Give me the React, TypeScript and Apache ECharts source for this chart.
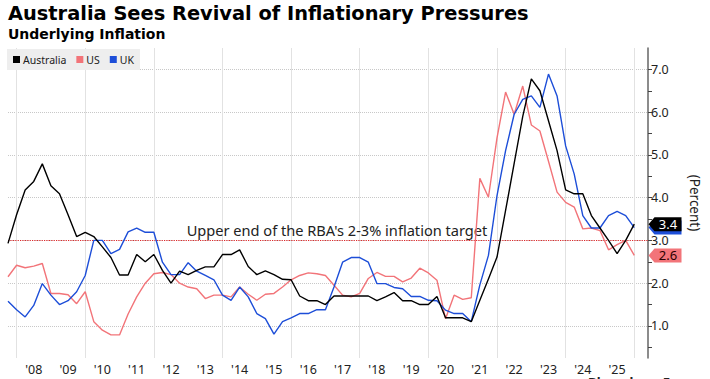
import React, { useEffect, useRef } from 'react';
import * as echarts from 'echarts';

// Quarterly observations, first one = Q3 2007 (quarter-end dates)
const startQuarter = 2007.75;
const quarterStep = 0.25;

const australia = [
  2.93, 3.6, 4.18, 4.38, 4.79, 4.28, 4.09, 3.6, 3.09, 3.19,
  3.09, 2.85, 2.6, 2.19, 2.19, 2.67, 2.5, 2.67, 2.3, 2.0,
  2.28, 2.2, 2.3, 2.38, 2.38, 2.67, 2.67, 2.78, 2.39, 2.2,
  2.29, 2.2, 2.09, 2.08, 1.7, 1.59, 1.59, 1.5, 1.7, 1.7,
  1.7, 1.7, 1.7, 1.59, 1.68, 1.78, 1.59, 1.59, 1.5, 1.5,
  1.69, 1.19, 1.19, 1.19, 1.1, 1.6, 2.1, 2.61, 3.7, 4.8,
  5.9, 6.78, 6.5, 5.8, 5.1, 4.18, 4.09, 4.09, 3.58, 3.29,
  3.0, 2.69, 3.0, 3.38,
];

const us = [
  2.15, 2.42, 2.36, 2.4, 2.46, 1.76, 1.76, 1.73, 1.52, 1.8,
  1.1, 0.9, 0.79, 0.79, 1.28, 1.68, 2.0, 2.22, 2.25, 2.2,
  2.0, 1.91, 1.87, 1.64, 1.72, 1.72, 1.68, 1.91, 1.74, 1.6,
  1.74, 1.76, 1.91, 2.08, 2.18, 2.24, 2.22, 2.18, 1.95, 1.72,
  1.68, 1.76, 2.11, 2.25, 2.16, 2.16, 2.03, 2.12, 2.35, 2.24,
  2.07, 1.17, 1.72, 1.62, 1.66, 4.45, 4.01, 5.4, 6.47, 5.95,
  6.61, 5.7, 5.56, 4.85, 4.13, 3.89, 3.78, 3.27, 3.29, 3.23,
  2.78, 2.9, 3.0, 2.65,
];

const uk = [
  1.58, 1.38, 1.21, 1.48, 1.99, 1.72, 1.5, 1.59, 1.8, 2.18,
  3.0, 3.0, 2.69, 2.79, 3.2, 3.29, 3.19, 3.19, 2.49, 2.2,
  2.2, 2.48, 2.28, 2.18, 2.08, 1.72, 1.6, 1.91, 1.68, 1.29,
  1.17, 0.81, 1.1, 1.19, 1.29, 1.29, 1.38, 1.38, 1.91, 2.49,
  2.6, 2.6, 2.49, 1.99, 1.99, 1.9, 1.87, 1.69, 1.69, 1.6,
  1.59, 1.37, 1.29, 1.29, 1.1, 1.96, 2.65, 4.05, 5.1, 5.95,
  6.3, 6.38, 6.11, 6.89, 6.38, 5.21, 4.55, 3.58, 3.29, 3.29,
  3.58, 3.68, 3.58, 3.3,
];

const yearLabels = [2008, 2009, 2010, 2011, 2012, 2013, 2014, 2015, 2016, 2017, 2018, 2019, 2020, 2021, 2022, 2023, 2024, 2025];
const gridYears = [2008, 2010, 2012, 2014, 2016, 2018, 2020, 2022, 2024, 2026];
const yLabelValues = [1, 2, 3, 4, 5, 6, 7];
const yTickValues = [0.5, 1, 1.5, 2, 2.5, 3, 3.5, 4, 4.5, 5, 5.5, 6, 6.5, 7];
const targetUpper = 3.0;
const targetText = "Upper end of the RBA's 2-3% inflation target";
const titleText = 'Australia Sees Revival of Inflationary Pressures';
const subtitleText = 'Underlying Inflation';

const X_MIN = 2007.75;
const X_MAX = 2026.4;
const Y_MIN = 0.25;
const Y_MAX = 7.5;

const FONT = '"Noto Sans", sans-serif';
const HEAD_FONT = '"DejaVu Sans", sans-serif';
const C_AU = '#000000';
const C_US = '#f27479';
const C_UK = '#1d4ed8';

const toPairs = (vals: number[]) => vals.map((v, i) => [startQuarter + i * quarterStep, v]);

// fit a font size so that text spans a target width
function fitSize(text: string, family: string, weight: string, target: number, fallback: number) {
  try {
    const c = document.createElement('canvas').getContext('2d');
    if (!c) return fallback;
    c.font = `${weight} 100px ${family}`;
    const w = c.measureText(text).width;
    if (!w) return fallback;
    return Math.round((target / w) * 1000) / 10;
  } catch (e) {
    return fallback;
  }
}

const tagPath = 'path://M0,7 L6,0 L33,0 L33,14 L6,14 Z';

function endTag(vals: number[], bg: string, fg: string, z: number, showText: boolean) {
  const last = vals[vals.length - 1];
  return {
    silent: true,
    z,
    symbol: tagPath,
    symbolSize: [33, 14],
    symbolOffset: [17, 0],
    itemStyle: { color: bg },
    label: {
      show: showText,
      position: 'inside',
      offset: [3, 0],
      color: fg,
      fontFamily: FONT,
      fontSize: 13,
      formatter: () => last.toFixed(1),
    },
    data: [{ coord: [X_MAX, last], value: last }],
  };
}

export default function App() {
  const ref = useRef<HTMLDivElement>(null);
  useEffect(() => {
    document.body.style.margin = '0';
    const chart = echarts.init(ref.current as HTMLDivElement, null, { renderer: 'svg' });
    const titleSize = Math.min(20, fitSize(titleText, HEAD_FONT, 'bold', 522, 18.5));
    const subSize = Math.min(14, fitSize(subtitleText, HEAD_FONT, 'bold', 162, 13));
    const targetSize = Math.min(15, fitSize(targetText, FONT, 'normal', 301, 14.6));
    const option: any = {
      animation: false,
      backgroundColor: '#ffffff',
      textStyle: { fontFamily: FONT },
      grid: { left: 8, right: 57, top: 48, bottom: 21, containLabel: false },
      graphic: [
        {
          type: 'text', left: 8, top: 4,
          style: { text: titleText, fontFamily: HEAD_FONT, fontWeight: 'bold', fontSize: titleSize, fill: '#000' },
        },
        {
          type: 'text', left: 8, top: 27,
          style: { text: subtitleText, fontFamily: HEAD_FONT, fontWeight: 'bold', fontSize: subSize, fill: '#000' },
        },
        {
          type: 'text', left: 588, top: 375,
          style: { text: 'Bloomberg Economics', fontFamily: FONT, fontWeight: 'bold', fontSize: 13, fill: '#222' },
        },
      ],
      legend: {
        data: ['Australia', 'US', 'UK'],
        left: 7, top: 49,
        backgroundColor: '#eeeeee',
        padding: [5, 6, 5, 6],
        itemWidth: 7, itemHeight: 7, itemGap: 10,
        icon: 'rect',
        textStyle: { fontFamily: FONT, fontSize: 10.5, color: '#222', padding: [0, 0, 0, -2] },
      },
      xAxis: {
        type: 'value', min: X_MIN, max: X_MAX,
        axisLine: { show: false }, axisTick: { show: false }, splitLine: { show: false },
        axisLabel: {
          customValues: yearLabels.map((y) => y + 0.5),
          formatter: (v: number) => "'" + String(Math.floor(v)).slice(2),
          color: '#222', fontSize: 12.5, fontFamily: FONT, margin: 5,
        },
      },
      yAxis: {
        type: 'value', position: 'right', min: Y_MIN, max: Y_MAX,
        axisLine: { show: true, lineStyle: { color: '#666', width: 1.5 } },
        axisTick: { show: true, customValues: yTickValues, length: 4, lineStyle: { color: '#444', width: 1 } },
        axisLabel: {
          customValues: yLabelValues,
          formatter: (v: number) => v.toFixed(1),
          color: '#222', fontSize: 12.5, fontFamily: FONT, margin: 3,
        },
        splitLine: { show: false },
        name: '(Percent)', nameLocation: 'middle', nameRotate: -90, nameGap: 40,
        nameTextStyle: { color: '#222', fontSize: 13.5, fontFamily: FONT },
      },
      series: [
        {
          name: 'grid', type: 'line', data: [], silent: true,
          markLine: {
            silent: true, z: 1, symbol: ['none', 'none'], label: { show: false },
            lineStyle: { color: '#c8c8c8', type: 'dotted', width: 1 },
            data: [
              ...yLabelValues.map((v) => ({ yAxis: v })),
              ...gridYears.map((y) => ({ xAxis: y, lineStyle: { color: '#e2e2e2', type: 'solid', width: 1 } })),
            ],
          },
        },
        {
          name: 'US', type: 'line', data: toPairs(us), showSymbol: false, z: 3,
          lineStyle: { color: C_US, width: 1.4 }, itemStyle: { color: C_US },
          markPoint: endTag(us, C_US, '#2a0000', 6, true),
        },
        {
          name: 'UK', type: 'line', data: toPairs(uk), showSymbol: false, z: 3,
          lineStyle: { color: C_UK, width: 1.4 }, itemStyle: { color: C_UK },
          markPoint: endTag(uk, C_UK, '#ffffff', 6, false),
        },
        {
          name: 'Australia', type: 'line', data: toPairs(australia), showSymbol: false, z: 4,
          lineStyle: { color: C_AU, width: 1.4 }, itemStyle: { color: C_AU },
          markPoint: endTag(australia, C_AU, '#ffffff', 8, true),
          markLine: {
            silent: true, z: 2, symbol: ['none', 'none'],
            lineStyle: { color: '#e0282a', type: 'dotted', width: 1.2 },
            label: {
              show: true, position: 'insideMiddleTop', formatter: targetText,
              color: '#222', fontSize: targetSize, fontFamily: FONT, distance: 3, offset: [9, 0],
            },
            data: [{ yAxis: targetUpper }],
          },
        },
      ],
    };
    chart.setOption(option);
    return () => chart.dispose();
  }, []);
  return <div ref={ref} style={{ width: 710, height: 379 }} />;
}
